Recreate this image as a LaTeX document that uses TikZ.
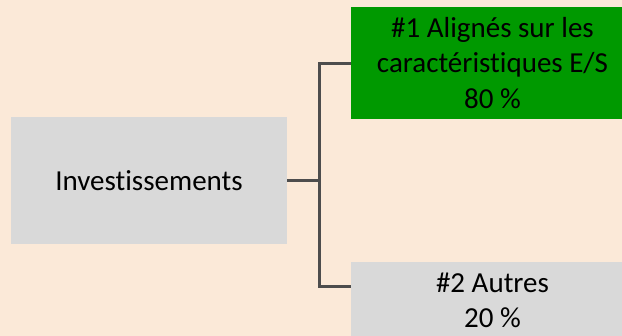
\documentclass[tikz,border=0pt]{standalone}
\usepackage{fontspec}
\setmainfont[Ligatures=NoCommon]{Carlito}
\definecolor{bgpeach}{HTML}{FBE9D8}
\definecolor{boxgray}{HTML}{D9D9D9}
\definecolor{boxgreen}{HTML}{009900}
\definecolor{linegray}{HTML}{4D4D4D}
\begin{document}
\begin{tikzpicture}[x=1pt,y=-1pt,
  box/.style={rectangle, inner sep=0pt, align=center, text=black,
    font=\fontsize{29}{35.4}\selectfont},
  conn/.style={draw=linegray, line width=3pt, line join=miter}]
\clip (0,0) rectangle (622,336);
\fill[bgpeach] (0,0) rectangle (622,336);
\node[box, fill=boxgray, minimum width=276pt, minimum height=127pt] (inv) at (149,180.5) {Investissements};
\node[box, fill=boxgreen, minimum width=283pt, minimum height=112pt] (es) at (492.5,63) {\#1 Alignés sur les\\caractéristiques E/S\\80 \%};
\node[box, fill=boxgray, minimum width=283pt, minimum height=77pt] (oth) at (492.5,300.5) {\#2 Autres\\20 \%};
\coordinate (jt) at (319,64);
\coordinate (jb) at (319,287);
\draw[conn] (inv.east) -- (inv.east -| jt);
\draw[conn] (es.west |- jt) -- (jt) -- (jb) -- (oth.west |- jb);
\end{tikzpicture}
\end{document}
